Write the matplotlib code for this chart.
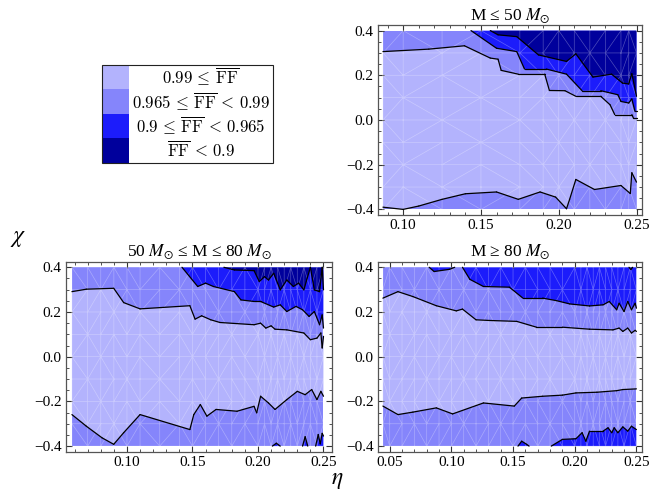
import numpy as np
import matplotlib
matplotlib.use('Agg')
import matplotlib.pyplot as plt
import matplotlib.tri as mtri
from matplotlib.collections import LineCollection
from matplotlib.patches import Rectangle

# band colours, lightest (best match) to darkest
colors = ['#b3b3fd', '#8585fb', '#1c1cfb', '#00009c']
legend_labels = [r'$0.99\,\leq\,\overline{\mathrm{FF}}$',
                 r'$0.965\,\leq\,\overline{\mathrm{FF}}\,<\,0.99$',
                 r'$0.9\,\leq\,\overline{\mathrm{FF}}\,<\,0.965$',
                 r'$\overline{\mathrm{FF}}\,<\,0.9$']

# ---- M <= 50 Msun (top right) ----
low_eta_range = [0.087, 0.25]
low_hi1_eta = [0.087, 0.1165, 0.1394, 0.156, 0.161, 0.163, 0.174, 0.191, 0.194, 0.204, 0.211, 0.227, 0.233, 0.236, 0.247, 0.248, 0.25]
low_hi1_chi = [0.306, 0.317, 0.332, 0.277, 0.272, 0.222, 0.205, 0.205, 0.132, 0.131, 0.106, 0.106, 0.068, 0.024, 0.024, 0.009, 0.009]
low_hi2_eta = [0.1436, 0.160, 0.173, 0.178, 0.192, 0.205, 0.215, 0.227, 0.238, 0.240, 0.245, 0.247, 0.249, 0.25]
low_hi2_chi = [0.4, 0.321, 0.306, 0.228, 0.228, 0.205, 0.131, 0.131, 0.113, 0.083, 0.076, 0.094, 0.039, 0.039]
low_hi3_eta = [0.156, 0.161, 0.173, 0.187, 0.205, 0.211, 0.222, 0.234, 0.241, 0.245, 0.247, 0.25]
low_hi3_chi = [0.4, 0.381, 0.373, 0.291, 0.262, 0.296, 0.192, 0.205, 0.165, 0.161, 0.207, 0.106]
low_lo1_eta = [0.087, 0.1, 0.110, 0.125, 0.140, 0.160, 0.174, 0.188, 0.198, 0.205, 0.207, 0.211, 0.223, 0.240, 0.246, 0.247, 0.25]
low_lo1_chi = [-0.39, -0.40, -0.385, -0.355, -0.33, -0.322, -0.355, -0.322, -0.345, -0.397, -0.355, -0.266, -0.311, -0.293, -0.329, -0.236, -0.278]
low_lo2_eta = []
low_lo2_chi = []
low_mesh_eta = [0.087, 0.10, 0.125, 0.15, 0.175, 0.19, 0.20, 0.21, 0.22, 0.23, 0.24, 0.245, 0.25]

# ---- 50 <= M <= 80 Msun (bottom left) ----
mid_eta_range = [0.058, 0.25]
mid_hi1_eta = [0.058, 0.069, 0.0899, 0.0975, 0.110, 0.148, 0.152, 0.157, 0.164, 0.171, 0.197, 0.202, 0.206, 0.210, 0.213, 0.222, 0.235, 0.240, 0.245, 0.248, 0.249, 0.25]
mid_hi1_chi = [0.291, 0.302, 0.306, 0.242, 0.214, 0.228, 0.168, 0.183, 0.165, 0.153, 0.143, 0.150, 0.128, 0.138, 0.123, 0.120, 0.106, 0.076, 0.083, 0.106, 0.039, 0.091]
mid_hi2_eta = [0.142, 0.154, 0.160, 0.166, 0.182, 0.187, 0.197, 0.202, 0.212, 0.217, 0.222, 0.229, 0.234, 0.239, 0.243, 0.247, 0.249, 0.25]
mid_hi2_chi = [0.4, 0.314, 0.329, 0.314, 0.291, 0.254, 0.247, 0.247, 0.222, 0.232, 0.202, 0.225, 0.210, 0.180, 0.202, 0.143, 0.187, 0.128]
mid_hi3_eta = [0.174, 0.182, 0.197, 0.201, 0.205, 0.208, 0.212, 0.217, 0.222, 0.227, 0.231, 0.235, 0.240, 0.243, 0.247, 0.249, 0.25]
mid_hi3_chi = [0.4, 0.388, 0.385, 0.336, 0.358, 0.343, 0.373, 0.299, 0.343, 0.314, 0.329, 0.299, 0.4, 0.299, 0.291, 0.4, 0.299]
mid_lo1_eta = [0.058, 0.069, 0.081, 0.0899, 0.0975, 0.110, 0.148, 0.151, 0.156, 0.161, 0.168, 0.184, 0.197, 0.199, 0.202, 0.208, 0.213, 0.222, 0.230, 0.236, 0.241, 0.245, 0.248, 0.25]
mid_lo1_chi = [-0.259, -0.311, -0.363, -0.392, -0.34, -0.259, -0.326, -0.259, -0.214, -0.266, -0.236, -0.244, -0.222, -0.251, -0.177, -0.207, -0.236, -0.192, -0.155, -0.170, -0.147, -0.192, -0.155, -0.177]
mid_lo2_eta = [0.211, 0.214, 0.217, 0.234, 0.236, 0.238, 0.244, 0.246, 0.2475, 0.249, 0.25]
mid_lo2_chi = [-0.4, -0.387, -0.4, -0.4, -0.358, -0.4, -0.4, -0.348, -0.39, -0.343, -0.355]
mid_mesh_eta = [0.058, 0.07, 0.08, 0.09, 0.10, 0.11, 0.125, 0.14, 0.15, 0.16, 0.17, 0.18, 0.19, 0.20,
                0.205, 0.21, 0.215, 0.22, 0.225, 0.23, 0.235, 0.24, 0.245, 0.25]

# ---- M >= 80 Msun (bottom right) ----
high_eta_range = [0.0445, 0.25]
high_hi1_eta = [0.0445, 0.0567, 0.0688, 0.0878, 0.104, 0.109, 0.120, 0.131, 0.153, 0.169, 0.190, 0.212, 0.231, 0.236, 0.239, 0.243, 0.246, 0.249, 0.25]
high_hi1_chi = [0.262, 0.291, 0.269, 0.228, 0.205, 0.213, 0.165, 0.162, 0.158, 0.132, 0.132, 0.123, 0.120, 0.128, 0.113, 0.128, 0.106, 0.118, 0.113]
high_hi2_eta = [0.082, 0.086, 0.0986, 0.1027, 0.109, 0.115, 0.126, 0.147, 0.158, 0.174, 0.185, 0.196, 0.212, 0.223, 0.228, 0.234, 0.236, 0.240, 0.243, 0.246, 0.249, 0.25]
high_hi2_chi = [0.4, 0.381, 0.391, 0.4, 0.4, 0.346, 0.314, 0.311, 0.262, 0.262, 0.251, 0.236, 0.227, 0.232, 0.247, 0.210, 0.239, 0.202, 0.247, 0.210, 0.239, 0.217]
high_hi3_eta = [0.244, 0.2455, 0.247]
high_hi3_chi = [0.4, 0.39, 0.4]
high_lo1_eta = [0.0445, 0.0567, 0.0688, 0.0878, 0.101, 0.126, 0.151, 0.157, 0.174, 0.190, 0.201, 0.218, 0.234, 0.239, 0.25]
high_lo1_chi = [-0.221, -0.259, -0.248, -0.229, -0.256, -0.207, -0.221, -0.185, -0.177, -0.172, -0.162, -0.159, -0.152, -0.147, -0.144]
high_lo2_eta = [0.154, 0.157, 0.161, 0.163, 0.181, 0.190, 0.201, 0.206, 0.209, 0.212, 0.223, 0.227, 0.230, 0.232, 0.235, 0.239, 0.243, 0.246, 0.25]
high_lo2_chi = [-0.4, -0.378, -0.392, -0.4, -0.4, -0.370, -0.367, -0.340, -0.378, -0.333, -0.333, -0.318, -0.340, -0.318, -0.340, -0.314, -0.333, -0.311, -0.326]
high_mesh_eta = [0.0445, 0.05, 0.06, 0.07, 0.08, 0.09, 0.10, 0.11, 0.12, 0.13, 0.14, 0.15, 0.16, 0.17,
                 0.18, 0.19, 0.20, 0.205, 0.21, 0.215, 0.22, 0.225, 0.23, 0.235, 0.24, 0.245, 0.25]

mesh_chi = [-0.4, -0.3, -0.2, -0.1, 0.0, 0.1, 0.2, 0.3, 0.4]

titles = [r'M ≤ 50 $M_{\odot}$', r'50 $M_{\odot}$ ≤ M ≤ 80 $M_{\odot}$', r'M ≥ 80 $M_{\odot}$']
chi_lim = 0.4

plt.rcParams['font.family'] = ['Liberation Serif', 'DejaVu Serif']
plt.rcParams['axes.unicode_minus'] = True


def contour_line(ax, x, y):
    # black contour line, not drawn where it lies on the plot edge
    x = np.asarray(x)
    y = np.asarray(y)
    edge = np.abs(y) >= chi_lim
    segs = [[(x[i], y[i]), (x[i + 1], y[i + 1])] for i in range(len(x) - 1)
            if not (edge[i] and edge[i + 1])]
    ax.add_collection(LineCollection(segs, colors='black', linewidths=0.9,
                                     capstyle='round', joinstyle='round', zorder=4))


def draw_panel(ax, eta_range, hi1, hi2, hi3, lo1, lo2, mesh_eta, title, xlim, xticks):
    e0, e1 = eta_range
    ax.fill([e0, e1, e1, e0], [-chi_lim, -chi_lim, chi_lim, chi_lim], color=colors[1], lw=0)
    # best band between upper and lower boundaries
    ax.fill(list(hi1[0]) + list(lo1[0][::-1]), list(hi1[1]) + list(lo1[1][::-1]),
            color=colors[0], lw=0)
    if len(hi2[0]):
        ax.fill(list(hi2[0]) + [hi2[0][-1], hi2[0][0]], list(hi2[1]) + [chi_lim, chi_lim],
                color=colors[2], lw=0)
    if len(hi3[0]):
        ax.fill(list(hi3[0]) + [hi3[0][-1], hi3[0][0]], list(hi3[1]) + [chi_lim, chi_lim],
                color=colors[3], lw=0)
    if len(lo2[0]):
        ax.fill(list(lo2[0]) + [lo2[0][-1], lo2[0][0]], list(lo2[1]) + [-chi_lim, -chi_lim],
                color=colors[2], lw=0)

    # faint triangulation of the sample grid, as in the original rendering
    gx, gy = np.meshgrid(mesh_eta, mesh_chi)
    tri = mtri.Triangulation(gx.ravel(), gy.ravel())
    ax.triplot(tri, color='white', lw=0.5, alpha=0.3, zorder=3)

    for c in (hi1, hi2, hi3, lo1, lo2):
        if len(c[0]):
            contour_line(ax, c[0], c[1])

    ax.set_xticks(xticks)
    ax.set_xticklabels(['%.2f' % t for t in xticks])
    ax.set_xticks(np.arange(0.04, 0.26, 0.01), minor=True)
    ax.set_yticks([-0.4, -0.2, 0.0, 0.2, 0.4])
    ax.set_yticklabels(['\u22120.4', '\u22120.2', '0.0', '0.2', '0.4'])
    ax.set_yticks(np.arange(-0.4, 0.41, 0.05), minor=True)
    ax.set_xlim(*xlim)
    ax.set_ylim(-0.425, 0.425)
    ax.tick_params(which='both', direction='in', top=True, right=True,
                   labelsize=11, color='#333333', pad=3)
    ax.tick_params(which='major', length=4, width=0.8)
    ax.tick_params(which='minor', length=2, width=0.6)
    for s in ax.spines.values():
        s.set_color('#555555')
        s.set_linewidth(0.9)
    ax.set_title(title, fontsize=12.5, pad=4, math_fontfamily='stix')


fig = plt.figure(figsize=(6.71, 4.98), dpi=100)

ax_low = fig.add_axes([0.5633, 0.5683, 0.3934, 0.3815])
ax_mid = fig.add_axes([0.0984, 0.0930, 0.3964, 0.3815])
ax_high = fig.add_axes([0.5633, 0.0930, 0.3934, 0.3815])

draw_panel(ax_low, low_eta_range, (low_hi1_eta, low_hi1_chi), (low_hi2_eta, low_hi2_chi),
           (low_hi3_eta, low_hi3_chi), (low_lo1_eta, low_lo1_chi), (low_lo2_eta, low_lo2_chi),
           low_mesh_eta, titles[0], (0.0838, 0.2535), [0.10, 0.15, 0.20, 0.25])
draw_panel(ax_mid, mid_eta_range, (mid_hi1_eta, mid_hi1_chi), (mid_hi2_eta, mid_hi2_chi),
           (mid_hi3_eta, mid_hi3_chi), (mid_lo1_eta, mid_lo1_chi), (mid_lo2_eta, mid_lo2_chi),
           mid_mesh_eta, titles[1], (0.0535, 0.2565), [0.10, 0.15, 0.20, 0.25])
draw_panel(ax_high, high_eta_range, (high_hi1_eta, high_hi1_chi), (high_hi2_eta, high_hi2_chi),
           (high_hi3_eta, high_hi3_chi), (high_lo1_eta, high_lo1_chi), (high_lo2_eta, high_lo2_chi),
           high_mesh_eta, titles[2], (0.0405, 0.2545), [0.05, 0.10, 0.15, 0.20, 0.25])

# axis labels shared by the panels
fig.text(0.027, 0.522, r'$\chi$', fontsize=17, math_fontfamily='stix', ha='center', va='center')
fig.text(0.502, 0.036, r'$\eta$', fontsize=17, math_fontfamily='stix', ha='center', va='center')

# legend box
lax = fig.add_axes([0.152, 0.6727, 0.2548, 0.1968])
lax.set_xlim(0, 1)
lax.set_ylim(0, 4)
lax.axis('off')
for i, (c, lab) in enumerate(zip(colors, legend_labels)):
    y0 = 3 - i
    lax.add_patch(Rectangle((0, y0), 0.158, 1, color=c, lw=0))
    lax.text(0.579, y0 + 0.5, lab, fontsize=12, math_fontfamily='cm', ha='center', va='center')
lax.add_patch(Rectangle((0, 0), 1, 4, fill=False, ec='#222222', lw=0.8, clip_on=False))

fig.savefig('out.png', dpi=100)
